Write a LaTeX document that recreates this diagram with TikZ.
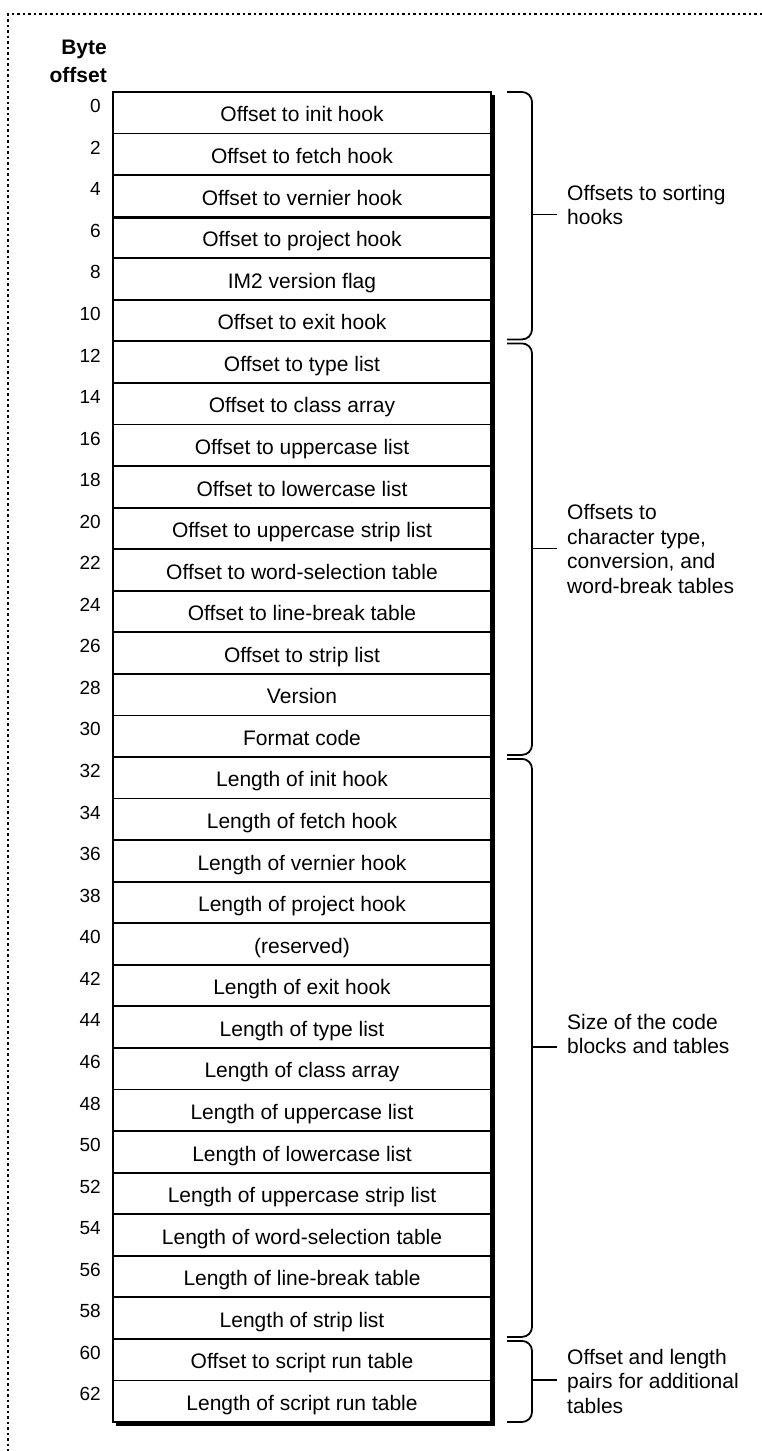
\documentclass[tikz,border=0pt]{standalone}
\usepackage{fontspec}
\setmainfont{Liberation Sans}
\usetikzlibrary{positioning}

\tikzset{
  row/.style={draw,line width=1.8pt,minimum width=378pt,minimum height=41.56pt,inner sep=0pt,
    text height=18.4pt,text depth=0pt,font=\fontsize{21}{24}\selectfont},
  offnum/.style={anchor=east,inner sep=0pt,font=\fontsize{19}{22}\selectfont},
  sidelbl/.style={anchor=west,inner sep=0pt,align=left,font=\fontsize{21}{24.5}\selectfont},
  bracket/.style={line width=1.8pt,rounded corners=10pt},
  frame/.style={line width=1.4pt,dash pattern=on 2.5pt off 3pt}
}

\begin{document}
\begin{tikzpicture}[x=1pt,y=-1pt]
\useasboundingbox (0,0) rectangle (762,1451);

% cut-off dotted frame
\draw[frame] (762,14) -- (8,14) -- (8,1451);

\node[anchor=east,inner sep=0pt,align=right,font=\fontsize{21}{28}\bfseries] (head) at (107,61) {Byte\\offset};

% the rows of the resource
\foreach \txt [count=\i from 0] in {
  Offset to init hook, Offset to fetch hook, Offset to vernier hook, Offset to project hook,
  IM2 version flag, Offset to exit hook, Offset to type list, Offset to class array,
  Offset to uppercase list, Offset to lowercase list, Offset to uppercase strip list,
  Offset to word-selection table, Offset to line-break table, Offset to strip list,
  Version, Format code, Length of init hook, Length of fetch hook, Length of vernier hook,
  Length of project hook, (reserved), Length of exit hook, Length of type list,
  Length of class array, Length of uppercase list, Length of lowercase list,
  Length of uppercase strip list, Length of word-selection table, Length of line-break table,
  Length of strip list, Offset to script run table, Length of script run table}
{
  \pgfmathsetmacro\ytop{92+\i*41.5625}
  \pgfmathtruncatemacro\off{2*\i}
  \node[row] (r\off) at (302,\ytop+20.78) {\txt};
  \node[offnum] (n\off) at (101,\ytop+14) {\off};
}

% heavy rule and shadow
\draw[line width=3.6pt] (r4.south west) -- (r4.south east);
\draw[line width=3pt] (493.5,95) -- (493.5,1424.5) -- (116,1424.5);

% braces
\draw[bracket] (507,92) -| (532,339.4) -- (507,339.4);
\draw[bracket] (507,343.4) -| (532,754.9) -- (507,754.9);
\draw[bracket] (507,758.9) -| (532,1336.9) -- (507,1336.9);
\draw[bracket] (507,1340.9) -| (532,1422) -- (507,1422);

\coordinate (b1) at (532,214.5);
\coordinate (b2) at (532,548.5);
\coordinate (b3) at (532,1047);
\coordinate (b4) at (532,1380);

\node[sidelbl] (l1) at (567,205) {Offsets to sorting\\hooks};
\node[sidelbl] (l2) at (567,549) {Offsets to\\character type,\\conversion, and\\word-break tables};
\node[sidelbl] (l3) at (567,1034) {Size of the code\\blocks and tables};
\node[sidelbl] (l4) at (567,1381) {Offset and length\\pairs for additional\\tables};

\foreach \k in {1,2,3,4}
  \draw[line width=1.8pt,shorten >=10pt] (b\k) -- (b\k -| l\k.west);
\end{tikzpicture}
\end{document}
